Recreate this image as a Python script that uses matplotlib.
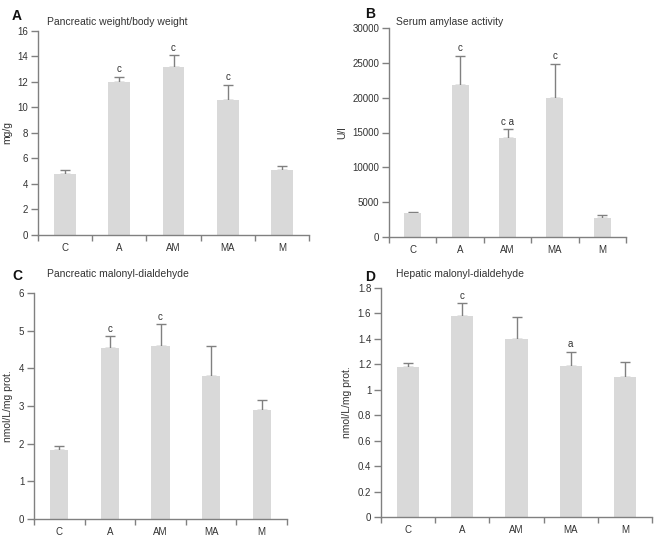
import matplotlib
matplotlib.use("Agg")
import matplotlib.pyplot as plt
import numpy as np

plt.rcParams['font.family'] = ['Liberation Sans Narrow', 'Liberation Sans', 'DejaVu Sans']

groups = ["C", "A", "AM", "MA", "M"]

# panel A: pancreatic weight / body weight
pw_mean = [4.8, 12.0, 13.2, 10.6, 5.1]
pw_err = [0.3, 0.4, 0.9, 1.2, 0.35]
pw_sig = ["", "c", "c", "c", ""]

# panel B: serum amylase
amy_mean = [3450, 21800, 14200, 20000, 2750]
amy_err = [100, 4200, 1300, 4900, 450]
amy_sig = ["", "c", "c a", "c", ""]

# panel C: pancreatic MDA
pmda_mean = [1.83, 4.55, 4.6, 3.8, 2.9]
pmda_err = [0.1, 0.3, 0.57, 0.78, 0.25]
pmda_sig = ["", "c", "c", "", ""]

# panel D: hepatic MDA
hmda_mean = [1.18, 1.58, 1.40, 1.19, 1.10]
hmda_err = [0.03, 0.10, 0.17, 0.11, 0.12]
hmda_sig = ["", "c", "", "a", ""]

# (letter, title, ylabel, mean, err, sig, ylim, yticks, axes box px, bar width,
#  letter xy px, title xy px)
panels = [
    ("A", "Pancreatic weight/body weight", "mg/g", pw_mean, pw_err, pw_sig,
     (0, 16), np.arange(0, 17, 2), [38, 31, 309, 235], 0.40, (12, 16), (47, 22)),
    ("B", "Serum amylase activity", "U/l", amy_mean, amy_err, amy_sig,
     (0, 30000), np.arange(0, 30001, 5000), [389, 28, 626, 237], 0.36, (365, 14), (396, 22)),
    ("C", "Pancreatic malonyl-dialdehyde", "nmol/L/mg prot.", pmda_mean, pmda_err, pmda_sig,
     (0, 6), np.arange(0, 7, 1), [34, 293, 287, 519], 0.36, (12, 276), (47, 274)),
    ("D", "Hepatic malonyl-dialdehyde", "nmol/L/mg prot.", hmda_mean, hmda_err, hmda_sig,
     (0, 1.8), np.arange(0, 1.81, 0.2), [381, 288, 652, 517], 0.41, (365, 277), (396, 274)),
]

W, H = 666, 547
fig = plt.figure(figsize=(W / 100, H / 100), dpi=100)
axis_col = "#808080"
bar_col = "#d9d9d9"
txt_col = "#333333"

for letter, title, ylab, mean, err, sig, ylim, yticks, box, bw, lxy, txy in panels:
    x0, y0, x1, y1 = box
    ax = fig.add_axes([x0 / W, 1 - y1 / H, (x1 - x0) / W, (y1 - y0) / H])
    x = np.arange(len(groups))
    ax.bar(x, mean, width=bw, color=bar_col, edgecolor="none", zorder=2)
    ax.errorbar(x, mean, yerr=[np.zeros(len(err)), err], fmt="none",
                ecolor=axis_col, elinewidth=1, capsize=3.5, capthick=1, zorder=1)
    span = ylim[1] - ylim[0]
    for xi, m, e, s in zip(x, mean, err, sig):
        if s:
            ax.text(xi, m + e + span * 0.012, s, ha="center", va="bottom",
                    fontsize=7, color=txt_col)
    ax.set_xlim(-0.5, len(groups) - 0.5)
    ax.set_ylim(*ylim)
    ax.set_yticks(yticks)
    ax.set_yticklabels([f"{t:g}" for t in yticks])
    ax.set_xticks(np.arange(len(groups) + 1) - 0.5)
    ax.set_xticklabels([])
    ax.set_xticks(x, minor=True)
    ax.set_xticklabels(groups, minor=True)
    ax.tick_params(axis="x", which="major", direction="out", length=4,
                   color=axis_col, width=1)
    ax.tick_params(axis="x", which="minor", length=0, labelsize=7,
                   labelcolor=txt_col, pad=6)
    ax.tick_params(axis="y", direction="out", length=5, color=axis_col,
                   width=1, labelsize=7, labelcolor=txt_col, pad=2)
    for sp in ["top", "right"]:
        ax.spines[sp].set_visible(False)
    for sp in ["left", "bottom"]:
        ax.spines[sp].set_color(axis_col)
        ax.spines[sp].set_linewidth(1)
    ax.set_ylabel(ylab, fontsize=7.5, color=txt_col, labelpad=4)
    ax.set_facecolor("none")
    # panel letter and title
    fig.text(lxy[0] / W, 1 - lxy[1] / H, letter, fontsize=10,
             fontweight="bold", ha="left", va="center", color="#111111",
             family=["Liberation Sans", "DejaVu Sans"])
    fig.text(txy[0] / W, 1 - txy[1] / H, title, fontsize=7.5,
             ha="left", va="center", color=txt_col)

fig.savefig("out.png", dpi=100)
